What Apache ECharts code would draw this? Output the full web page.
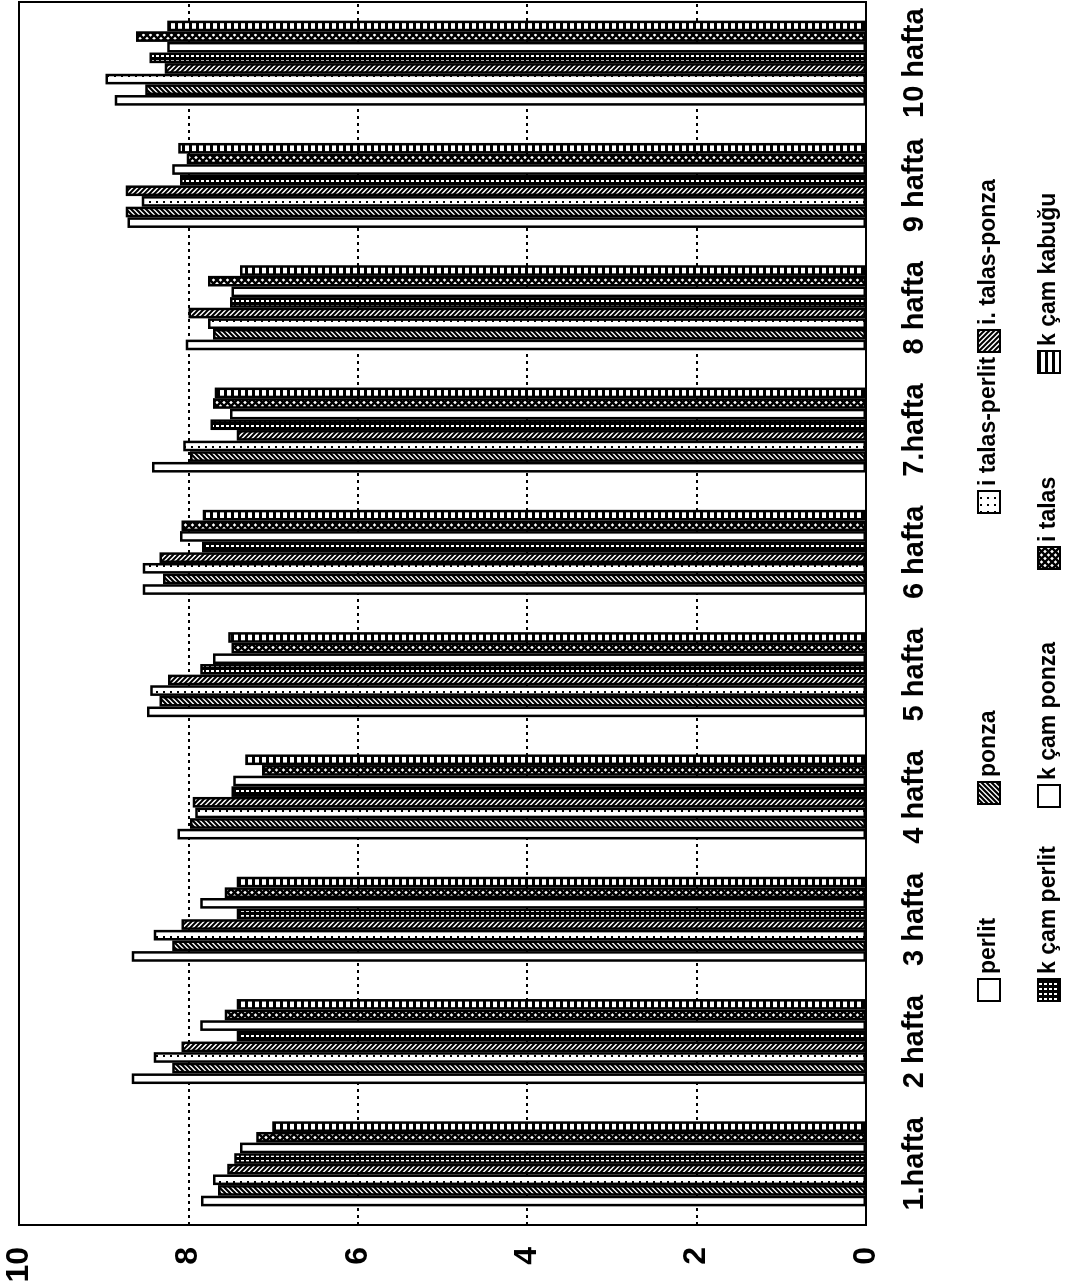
<!DOCTYPE html>
<html>
<head>
<meta charset="utf-8">
<script src="https://cdn.jsdelivr.net/npm/echarts@6/dist/echarts.min.js"></script>
<style>
  html, body { margin: 0; padding: 0; background: #fff; }
  body { width: 1072px; height: 1288px; overflow: hidden; position: relative; }
  /* chart is drawn upright, then turned a quarter to the left like the scan */
  #main {
    position: absolute; left: 0; top: 0;
    width: 1288px; height: 1072px;
    transform-origin: 0 0;
    transform: translate(0, 1288px) rotate(-90deg);
  }
</style>
</head>
<body>
<div id="main"></div>
<script>
var weeks = ['1.hafta', '2 hafta', '3 hafta', '4 hafta', '5 hafta', '6 hafta', '7.hafta', '8 hafta', '9 hafta', '10 hafta'];

var perlit        = [7.85, 8.67, 8.67, 8.13, 8.49, 8.54, 8.43, 8.03, 8.72, 8.87];
var ponza         = [7.65, 8.19, 8.19, 7.98, 8.34, 8.30, 7.98, 7.71, 8.74, 8.51];
var talasPerlit   = [7.71, 8.41, 8.41, 7.92, 8.45, 8.54, 8.06, 7.77, 8.55, 8.98];
var talasPonza    = [7.54, 8.08, 8.08, 7.95, 8.24, 8.34, 7.43, 8.00, 8.74, 8.28];
var kcamPerlit    = [7.46, 7.43, 7.43, 7.49, 7.86, 7.84, 7.74, 7.51, 8.10, 8.46];
var kcamPonza     = [7.39, 7.86, 7.86, 7.47, 7.71, 8.10, 7.51, 7.49, 8.19, 8.25];
var talas         = [7.20, 7.57, 7.57, 7.13, 7.49, 8.08, 7.71, 7.77, 8.02, 8.62];
var kcamKabugu    = [7.01, 7.43, 7.43, 7.33, 7.53, 7.83, 7.69, 7.39, 8.12, 8.25];

var seriesNames = ['perlit', 'ponza', 'i talas-perlit', 'i. talas-ponza', 'k çam perlit', 'k çam ponza', 'i talas', 'k çam kabuğu'];
var seriesData = [perlit, ponza, talasPerlit, talasPonza, kcamPerlit, kcamPonza, talas, kcamKabugu];

var FONT = "'Liberation Sans', Arial, sans-serif";

// black and white fills, made on small canvases
function pat(size, draw) {
    var c = document.createElement('canvas');
    c.width = size; c.height = size;
    var g = c.getContext('2d');
    g.fillStyle = '#fff';
    g.fillRect(0, 0, size, size);
    g.strokeStyle = '#000';
    g.fillStyle = '#000';
    draw(g, size);
    return { image: c, repeat: 'repeat' };
}
function slash(g, p, w) {
    g.lineWidth = w;
    g.beginPath();
    g.moveTo(-1, 1); g.lineTo(1, -1);
    g.moveTo(0, p); g.lineTo(p, 0);
    g.moveTo(p - 1, p + 1); g.lineTo(p + 1, p - 1);
    g.stroke();
}
function backslash(g, p, w) {
    g.lineWidth = w;
    g.beginPath();
    g.moveTo(-1, p - 1); g.lineTo(1, p + 1);
    g.moveTo(0, 0); g.lineTo(p, p);
    g.moveTo(p - 1, -1); g.lineTo(p + 1, 1);
    g.stroke();
}

var fills = [
    '#ffffff',
    pat(5, function (g, p) { slash(g, p, 2.2); }),
    pat(7, function (g) { g.fillRect(0, 2, 2, 2); }),
    pat(5, function (g, p) { backslash(g, p, 2); }),
    pat(5, function (g) { g.fillRect(0, 0, 5, 5); g.fillStyle = '#fff'; g.fillRect(1, 1, 2, 3); }),
    '#ffffff',
    pat(7, function (g, p) { slash(g, p, 2.4); backslash(g, p, 2.4); }),
    pat(7, function (g) { g.fillRect(0, 0, 7, 3); })
];

var series = [];
for (var i = 0; i < seriesNames.length; i++) {
    series.push({
        name: seriesNames[i],
        type: 'bar',
        data: seriesData[i],
        barGap: '0%',
        barCategoryGap: '30.5%',
        itemStyle: { color: fills[i], borderColor: '#000', borderWidth: 2.5 }
    });
}

// legend items sit where the scan has them (two rows)
var legendPos = [
    [281, 972], [478, 972], [769, 972], [930, 972],
    [281, 1032], [475, 1032], [713, 1032], [909, 1032]
];
var legends = [];
for (var j = 0; j < seriesNames.length; j++) {
    legends.push({
        data: [seriesNames[j]],
        left: legendPos[j][0],
        top: legendPos[j][1],
        icon: 'rect',
        itemWidth: 22,
        itemHeight: 22,
        selectedMode: false,
        textStyle: { fontFamily: FONT, fontSize: 23, fontWeight: 'bold', color: '#000' }
    });
}

var myChart = echarts.init(document.getElementById('main'), null, { renderer: 'canvas' });
myChart.setOption({
    animation: false,
    backgroundColor: '#fff',
    legend: legends,
    grid: {
        left: 63, right: 2, top: 19, bottom: 206,
        show: true, borderColor: '#000', borderWidth: 2
    },
    xAxis: {
        type: 'category',
        data: weeks,
        axisLine: { lineStyle: { color: '#000', width: 2 } },
        axisTick: { show: false },
        axisLabel: { interval: 0, fontFamily: FONT, fontSize: 29, fontWeight: 'bold', color: '#000', margin: 34 }
    },
    yAxis: {
        type: 'value',
        min: 0, max: 10, interval: 2,
        axisLine: { show: true, lineStyle: { color: '#000', width: 2 } },
        axisTick: { show: false },
        axisLabel: { fontFamily: FONT, fontSize: 32, fontWeight: 'bold', color: '#000', margin: 22 },
        splitLine: { lineStyle: { color: '#000', width: 2, type: [3, 4] } }
    },
    series: series
});
</script>
</body>
</html>
